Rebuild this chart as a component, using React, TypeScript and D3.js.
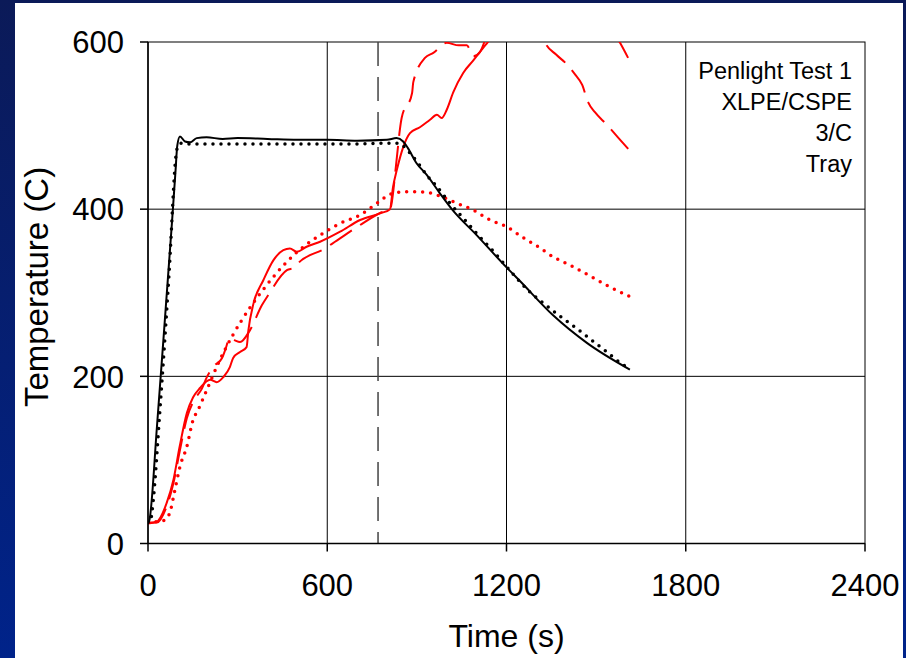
import React from "react";
import * as d3 from "d3";

// ---- data (time s, temperature C) ----
const xTicks = [0, 600, 1200, 1800, 2400];
const yTicks = [0, 200, 400, 600];
const annotation = ["Penlight Test 1", "XLPE/CSPE", "3/C", "Tray"];
const markerTime = 770;

const blackSolidT = [0, 4, 30, 60, 80, 92, 98, 107, 124, 141, 163, 196, 250, 300, 400, 500, 600, 700, 800, 832, 854, 870, 899, 933, 977, 1017, 1100, 1201, 1245, 1356, 1469, 1613];
const blackSolidV = [25, 27, 140, 285, 383, 445, 476, 487, 481, 480, 485, 486, 484, 485, 484, 483, 483, 482, 483, 485, 481, 473, 455, 441, 419, 400, 369, 330, 314, 273, 240, 208];

const blackDotT = [0, 8, 14, 40, 70, 95, 102, 110, 130, 200, 300, 400, 500, 600, 700, 800, 830, 849, 877, 900, 937, 967, 1011, 1061, 1105, 1155, 1201, 1272, 1322, 1379, 1436, 1486, 1540, 1590, 1605];
const blackDotV = [25, 26, 40, 160, 320, 468, 477, 479, 478, 478, 478, 478, 478, 478, 478, 479, 479, 477, 467, 457, 439, 427, 407, 387, 369, 350, 331, 303, 288, 272, 257, 243, 228, 214, 211];

const redSolidT = [0, 29, 62, 85, 106, 130, 151, 174, 208, 230, 252, 274, 285, 308, 330, 336, 353, 386, 420, 453, 475, 498, 531, 576, 643, 710, 777, 810, 820, 833, 854, 877, 910, 944, 967, 983, 1000, 1022, 1055, 1089, 1122, 1138, 1200, 1300, 1400, 1500, 1580, 1607];
const redSolidV = [24, 26, 48, 76, 116, 156, 175, 186, 196, 193, 199, 211, 222, 229, 235, 255, 287, 315, 339, 351, 353, 349, 355, 361, 373, 387, 395, 400, 426, 447, 474, 491, 498, 507, 513, 509, 519, 540, 563, 578, 593, 600, 640, 680, 670, 640, 599, 581];

const redDashT = [0, 30, 60, 85, 106, 130, 155, 180, 197, 220, 248, 258, 274, 291, 308, 341, 381, 402, 465, 490, 502, 592, 626, 710, 780, 810, 833, 843, 849, 884, 888, 927, 955, 1000, 1040, 1067, 1089, 1111, 1150, 1230, 1300, 1330, 1366, 1403, 1430, 1453, 1473, 1496, 1536, 1573, 1610];
const redDashV = [25, 25, 42, 72, 110, 150, 172, 185, 199, 212, 222, 231, 246, 243, 241, 255, 285, 297, 327, 330, 335, 353, 361, 381, 396, 400, 462, 495, 509, 539, 552, 581, 587, 599, 596, 596, 583, 588, 625, 660, 630, 599, 585, 573, 561, 549, 528, 516, 501, 486, 471];

const redDotT = [0, 29, 57, 74, 90, 107, 130, 151, 168, 197, 241, 285, 341, 397, 465, 520, 576, 643, 710, 766, 820, 877, 933, 983, 1034, 1089, 1145, 1201, 1251, 1306, 1356, 1413, 1490, 1546, 1610];
const redDotV = [25, 26, 28, 38, 64, 92, 116, 148, 160, 184, 220, 250, 282, 309, 337, 355, 369, 383, 393, 407, 419, 421, 420, 415, 407, 399, 387, 379, 367, 355, 343, 333, 318, 307, 296];

const W = 906;
const H = 658;
const FONT = "'Liberation Sans', Arial, sans-serif";

export default function App() {
  const x = d3.scaleLinear().domain([0, 2400]).range([148, 865]);
  const y = d3.scaleLinear().domain([0, 600]).range([543.5, 42]);

  const line = d3
    .line<[number, number]>()
    .x((d) => x(d[0]))
    .y((d) => y(d[1]))
    .curve(d3.curveMonotoneX);

  const zip = (t: number[], v: number[]) => t.map((ti, i) => [ti, v[i]] as [number, number]);

  const series = [
    { data: zip(redDotT, redDotV), color: "#ff0000", width: 3.5, dash: "0 8", cap: "round" },
    { data: zip(redDashT, redDashV), color: "#ff0000", width: 2, dash: "26 10", cap: "butt" },
    { data: zip(redSolidT, redSolidV), color: "#ff0000", width: 2, dash: "none", cap: "butt" },
    { data: zip(blackDotT, blackDotV), color: "#000000", width: 3.5, dash: "0 8", cap: "round" },
    { data: zip(blackSolidT, blackSolidV), color: "#000000", width: 2, dash: "none", cap: "butt" },
  ];

  const [x0, x1] = x.range();
  const [y0, y1] = y.range();

  return (
    <svg
      width={W}
      height={H}
      style={{ position: "absolute", left: 0, top: 0 }}
      fontFamily={FONT}
    >
      <defs>
        <linearGradient id="bg" x1="0" y1="0" x2="0" y2="1">
          <stop offset="0" stopColor="#0b1a58" />
          <stop offset="1" stopColor="#00238a" />
        </linearGradient>
        <clipPath id="plot">
          <rect x={x0} y={y1} width={x1 - x0} height={y0 - y1} />
        </clipPath>
      </defs>
      <rect x={0} y={0} width={W} height={H} fill="url(#bg)" />
      <rect x={15} y={3} width={888} height={H - 3} fill="#ffffff" />

      {/* grid */}
      {yTicks.filter((t) => t > 0 && t < 600).map((t) => (
        <line key={"gy" + t} x1={x0} x2={x1} y1={y(t)} y2={y(t)} stroke="#000" strokeWidth={1} />
      ))}
      {xTicks.filter((t) => t > 0 && t < 2400).map((t) => (
        <line key={"gx" + t} x1={x(t)} x2={x(t)} y1={y1} y2={y0} stroke="#000" strokeWidth={1} />
      ))}
      <rect x={x0} y={y1} width={x1 - x0} height={y0 - y1} fill="none" stroke="#000" strokeWidth={1} />

      {/* vertical marker */}
      <line
        x1={x(markerTime)}
        x2={x(markerTime)}
        y1={y1}
        y2={y0}
        stroke="#444"
        strokeWidth={1.5}
        strokeDasharray="24 11"
      />

      {/* series */}
      <g clipPath="url(#plot)">
        {series.map((s, i) => (
          <path
            key={i}
            d={line(s.data) || ""}
            fill="none"
            stroke={s.color}
            strokeWidth={s.width}
            strokeDasharray={s.dash}
            strokeLinecap={s.cap as any}
            strokeLinejoin="round"
          />
        ))}
      </g>

      {/* axes */}
      <line x1={x0} x2={x0} y1={y1} y2={y0} stroke="#000" strokeWidth={1.5} />
      <line x1={x0} x2={x1} y1={y0} y2={y0} stroke="#000" strokeWidth={1.5} />
      {yTicks.map((t) => (
        <g key={"yt" + t}>
          <line x1={x0 - 8} x2={x0} y1={y(t)} y2={y(t)} stroke="#000" strokeWidth={1.5} />
          <text x={124} y={y(t) + 11.2} textAnchor="end" fontSize={31} fill="#000">
            {t}
          </text>
        </g>
      ))}
      {xTicks.map((t) => (
        <g key={"xt" + t}>
          <line x1={x(t)} x2={x(t)} y1={y0} y2={y0 + 8} stroke="#000" strokeWidth={1.5} />
          <text x={x(t)} y={596} textAnchor="middle" fontSize={31} fill="#000">
            {t}
          </text>
        </g>
      ))}

      <text x={(x0 + x1) / 2} y={647} textAnchor="middle" fontSize={32} fill="#000">
        Time (s)
      </text>
      <text
        transform={`translate(48, 287) rotate(-90)`}
        textAnchor="middle"
        fontSize={33}
        fill="#000"
      >
        Temperature (C)
      </text>

      {annotation.map((a, i) => (
        <text key={a} x={852} y={78.5 + i * 31.3} textAnchor="end" fontSize={23.5} fill="#000">
          {a}
        </text>
      ))}
    </svg>
  );
}
